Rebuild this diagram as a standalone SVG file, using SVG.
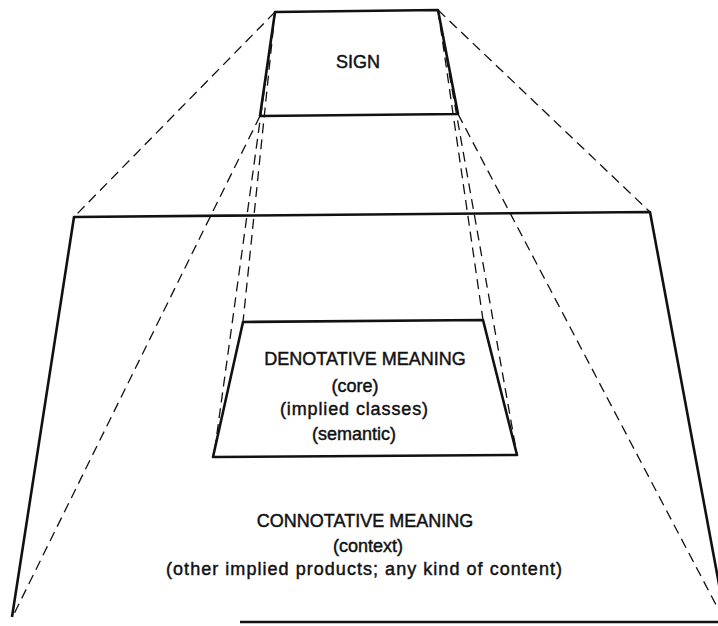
<svg xmlns="http://www.w3.org/2000/svg" width="718" height="626" viewBox="0 0 718 626">
<style>
.solid{fill:none;stroke:#111;stroke-width:2.6;stroke-linejoin:round}
.dash{fill:none;stroke:#111;stroke-width:1.3;stroke-dasharray:10 6}
text{font-family:"Liberation Sans",Arial,sans-serif;font-size:18px;fill:#111;stroke:#111;stroke-width:0.45;text-anchor:middle}
</style>
<rect width="718" height="626" fill="#fff"/>
<g id="connectors">
<line class="dash" x1="275" y1="12" x2="74" y2="217"/>
<line class="dash" x1="438" y1="10" x2="650" y2="212"/>
<line class="dash" x1="260" y1="116" x2="13" y2="616"/>
<line class="dash" x1="458" y1="114" x2="724" y2="620"/>
<line class="dash" x1="275" y1="12" x2="214" y2="455"/>
<line class="dash" x1="275" y1="12" x2="243" y2="322"/>
<line class="dash" x1="438" y1="10" x2="517" y2="455"/>
<line class="dash" x1="438" y1="10" x2="483" y2="320"/>
</g>
<g id="connotative">
<polyline class="solid" points="12,617 74,217 650,212 726,622"/>
<line class="solid" x1="240" y1="622" x2="718" y2="622"/>
<text x="365" y="527">CONNOTATIVE MEANING</text>
<text x="368" y="552">(context)</text>
<text x="364" y="575" textLength="396" lengthAdjust="spacing">(other implied products; any kind of content)</text>
</g>
<g id="denotative">
<polygon class="solid" points="243,322 483,320 517,455 213,457"/>
<text x="365" y="365">DENOTATIVE MEANING</text>
<text x="355" y="392">(core)</text>
<text x="354" y="415" textLength="148" lengthAdjust="spacing">(implied classes)</text>
<text x="354" y="440">(semantic)</text>
</g>
<g id="sign">
<polygon class="solid" points="275,12 438,10 458,114 260,116"/>
<text x="358" y="68" font-size="17">SIGN</text>
</g>
</svg>
